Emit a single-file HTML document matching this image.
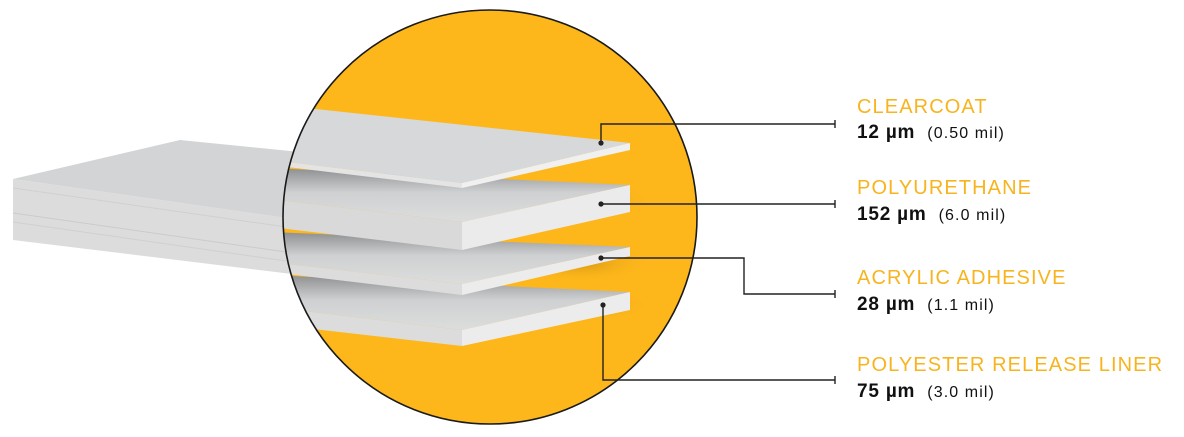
<!DOCTYPE html>
<html><head><meta charset="utf-8"><style>
html,body{margin:0;padding:0;background:#fff;width:1184px;height:437px;overflow:hidden;font-family:"Liberation Sans",sans-serif}
.l{position:absolute;left:857px;color:#F7B41E;font-size:20px;letter-spacing:1.1px;white-space:nowrap}
.v{position:absolute;left:857px;color:#111;font-size:19px;font-weight:bold;letter-spacing:0.8px;white-space:nowrap}
.v span{font-weight:normal;font-size:16px;margin-left:12px;letter-spacing:1.1px}
</style></head><body>
<svg width="1184" height="437" style="position:absolute;left:0;top:0">
<defs>
<clipPath id="c"><circle cx="490" cy="217" r="207"/></clipPath>
<linearGradient id="sh" x1="0" y1="0" x2="0" y2="1">
<stop offset="0" stop-color="#8e8f91"/><stop offset="0.45" stop-color="#cfd0d1"/><stop offset="1" stop-color="#dcdddd"/></linearGradient>
<radialGradient id="ys" cx="0.5" cy="0.5" r="0.5"><stop offset="0" stop-color="#c88a10" stop-opacity="0.8"/><stop offset="1" stop-color="#FDB71B" stop-opacity="0"/></radialGradient>
</defs>
<polygon points="180,140 300,152 300,220 13,179" fill="#d3d4d5"/>
<polygon points="13,179 300,220 300,275 13,240" fill="#dcdcdd"/>
<polyline points="13,188 300,229" stroke="#d0d0d1" fill="none"/>
<polyline points="13,213 300,254" stroke="#cbcbcc" fill="none"/>
<polyline points="13,222 300,263" stroke="#d0d0d1" fill="none"/>
<circle cx="490" cy="217" r="207" fill="#FDB71B"/>
<g clip-path="url(#c)">
<ellipse cx="580" cy="200" rx="70" ry="22" fill="url(#ys)"/>
<ellipse cx="580" cy="262" rx="70" ry="20" fill="url(#ys)"/>
<ellipse cx="580" cy="305" rx="70" ry="18" fill="url(#ys)"/>
<polygon points="270,275 630,292 462,330 270,307" fill="url(#sh)"/>
<polygon points="270,307 462,330 462,346 270,324" fill="#dcdcdc"/>
<polygon points="462,330 630,292 630,310 462,346" fill="#ececec"/>
<polygon points="270,232 630,247 462,284 270,262" fill="url(#sh)"/>
<polygon points="270,262 462,284 462,295 270,272" fill="#dcdcdc"/>
<polygon points="462,284 630,247 630,256 462,295" fill="#ececec"/>
<polygon points="270,168 630,185 462,222 270,199" fill="url(#sh)"/>
<polygon points="270,199 462,222 462,250 270,227" fill="#d9d9d9"/>
<polygon points="462,222 630,185 630,212 462,250" fill="#ebebeb"/>
<polygon points="270,104 630,143 462,183 270,160" fill="#d7d8d9"/>
<polygon points="270,160 462,183 462,188 270,165" fill="#e4e4e4"/>
<polygon points="462,183 630,143 630,150 462,188" fill="#f0f0f0"/>
</g>
<circle cx="490" cy="217" r="207" fill="none" stroke="#1a1a1a" stroke-width="1.6"/>
<g stroke="#222" stroke-width="1.4" fill="none">
<polyline points="601,143 601,124 835,124"/>
<polyline points="601,204 835,204"/>
<polyline points="601,258 744,258 744,294 835,294"/>
<polyline points="603,305 603,380 835,380"/>
<line x1="835" y1="120" x2="835" y2="128"/><line x1="835" y1="200" x2="835" y2="208"/>
<line x1="835" y1="290" x2="835" y2="298"/><line x1="835" y1="376" x2="835" y2="384"/>
</g>
<g fill="#222"><circle cx="601" cy="143" r="2.6"/><circle cx="601" cy="204" r="2.6"/><circle cx="601" cy="258" r="2.6"/><circle cx="603" cy="305" r="2.6"/></g>
</svg>
<div class="l" style="top:96px">CLEARCOAT</div>
<div class="v" style="top:122px">12 µm<span>(0.50 mil)</span></div>
<div class="l" style="top:177px">POLYURETHANE</div>
<div class="v" style="top:204px">152 µm<span>(6.0 mil)</span></div>
<div class="l" style="top:267px">ACRYLIC ADHESIVE</div>
<div class="v" style="top:294px">28 µm<span>(1.1 mil)</span></div>
<div class="l" style="top:354px">POLYESTER RELEASE LINER</div>
<div class="v" style="top:381px">75 µm<span>(3.0 mil)</span></div>
</body></html>
